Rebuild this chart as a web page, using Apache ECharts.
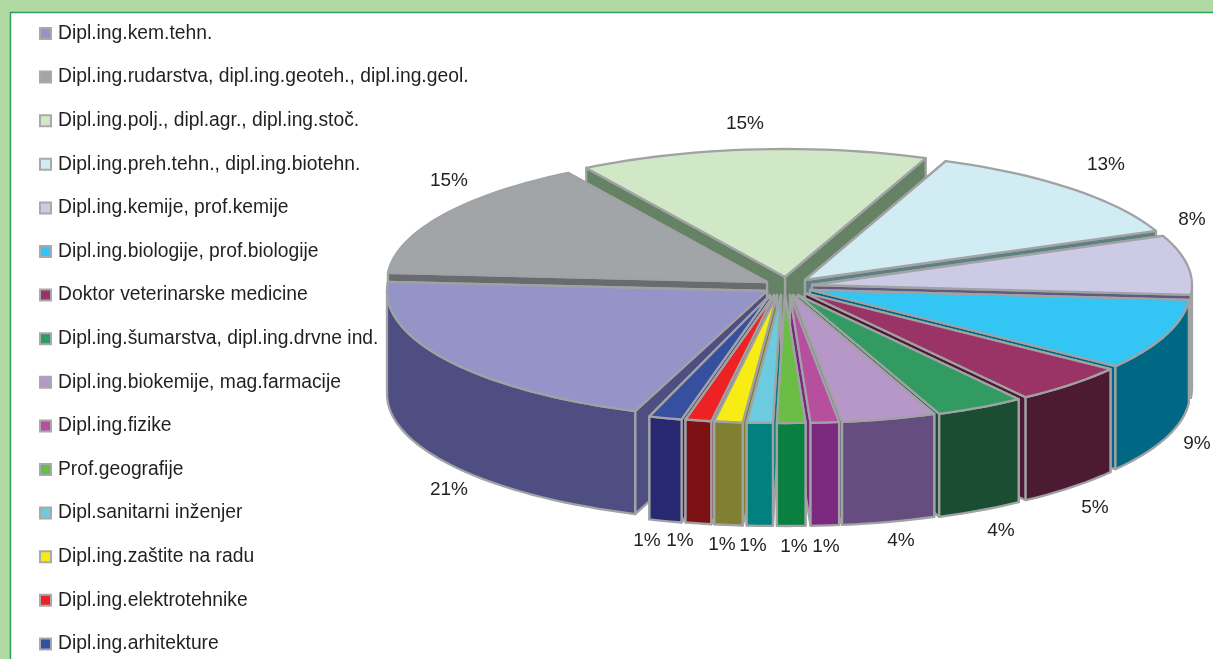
<!DOCTYPE html>
<html>
<head>
<meta charset="utf-8">
<style>
  html, body { margin: 0; padding: 0; background: #fff; }
  #chart { width: 1213px; height: 659px; }
</style>
<script src="https://cdn.jsdelivr.net/npm/echarts@6/dist/echarts.min.js"></script>
</head>
<body>
<div id="chart"></div>
<script>
const categories = [
  'Dipl.ing.kem.tehn.',
  'Dipl.ing.rudarstva, dipl.ing.geoteh., dipl.ing.geol.',
  'Dipl.ing.polj., dipl.agr., dipl.ing.stoč.',
  'Dipl.ing.preh.tehn., dipl.ing.biotehn.',
  'Dipl.ing.kemije, prof.kemije',
  'Dipl.ing.biologije, prof.biologije',
  'Doktor veterinarske medicine',
  'Dipl.ing.šumarstva, dipl.ing.drvne ind.',
  'Dipl.ing.biokemije, mag.farmacije',
  'Dipl.ing.fizike',
  'Prof.geografije',
  'Dipl.sanitarni inženjer',
  'Dipl.ing.zaštite na radu',
  'Dipl.ing.elektrotehnike',
  'Dipl.ing.arhitekture'
];
// share of each slice in percent
const shares = [20.5, 15.1, 14.8, 12.7, 7.5, 8.9, 5, 3.8, 4, 1.2, 1.2, 1.1, 1.2, 1.1, 1.4];
const topColors = ['#9594c8', '#a2a5a8', '#d1e8c7', '#d2ecf4', '#cdcae6', '#33c5f4', '#9a3366', '#319b62',
  '#b797c7', '#b74f9f', '#6bbd45', '#6ccbdf', '#f7ec13', '#ee2224', '#364f9f'];
const wallColors = ['#4e4e82', '#6a6b6e', '#668265', '#5d8083', '#5e5a80', '#006884', '#4c1b33', '#1b4d32',
  '#664d7f', '#7b2880', '#0a7f3f', '#00807f', '#808033', '#7c1214', '#282872'];

// pie geometry
const hub = [785, 295];
const radiusX = 380;
const radiusY = 128;
const depth = 103;
const startAngle = 20.3; // degrees clockwise from straight down
// how far each slice was pulled out of the pie
const explode = [[-18, -4], [-18, -13], [0, -18], [20, -15], [27, -10], [25, -5], [20, -2], [13, 0],
  [8, 0], [5, 0], [0, 0], [-4, 0], [-8, 0], [-11, 0], [-15, 0]];
// label centres, placed by hand like in the original
const labelSpots = [[449, 490], [449, 181], [745, 124], [1106, 165], [1192, 220], [1197, 444], [1095, 508],
  [1001, 531], [901, 541], [826, 547], [794, 547], [753, 546], [722, 545], [680, 541], [647, 541]];

const outline = '#a0a2a4';

// start and end angle of every slice
const spans = [];
let running = startAngle;
shares.forEach((share) => {
  const end = running + share * 3.6;
  spans.push([running, end]);
  running = end;
});

function rimPoint(i, deg, drop) {
  const rad = deg * Math.PI / 180;
  return [
    hub[0] + explode[i][0] - radiusX * Math.sin(rad),
    hub[1] + explode[i][1] + radiusY * Math.cos(rad) + drop
  ];
}

function arc(i, from, to, drop) {
  const pts = [];
  const steps = Math.max(2, Math.ceil((to - from) / 2));
  for (let s = 0; s <= steps; s++) {
    pts.push(rimPoint(i, from + (to - from) * s / steps, drop));
  }
  return pts;
}

function face(points, fill) {
  return {
    type: 'polygon',
    shape: { points: points },
    style: { fill: fill, stroke: outline, lineWidth: 2.3, lineJoin: 'round' }
  };
}

function renderSlice(i) {
  const [a0, a1] = spans[i];
  const tip = [hub[0] + explode[i][0], hub[1] + explode[i][1]];
  const tipLow = [tip[0], tip[1] + depth];
  const children = [];

  // radial walls, the far one first
  [a0, a1]
    .sort((p, q) => Math.cos(p * Math.PI / 180) - Math.cos(q * Math.PI / 180))
    .forEach((deg) => {
      const p = rimPoint(i, deg, 0);
      const q = rimPoint(i, deg, depth);
      children.push(face([tip, p, q, tipLow], wallColors[i]));
    });

  // rim wall, only the part turned to the viewer
  const ranges = [[a0, Math.min(a1, 90)], [Math.max(a0, 270), Math.min(a1, 450)]];
  ranges.forEach(([from, to]) => {
    if (to > from) {
      children.push(face(arc(i, from, to, 0).concat(arc(i, from, to, depth).reverse()), wallColors[i]));
    }
  });

  // top
  children.push(face([tip].concat(arc(i, a0, a1, 0)), topColors[i]));

  children.push({
    type: 'text',
    x: labelSpots[i][0],
    y: labelSpots[i][1],
    style: {
      text: Math.round(shares[i]) + '%',
      fontFamily: 'Liberation Sans',
      fontSize: 19,
      fill: '#231f20',
      align: 'center',
      verticalAlign: 'middle'
    }
  });
  return { type: 'group', children: children };
}

// paint back slices first
const depthOrder = categories.map((c, i) => i).sort((a, b) => {
  const mid = (k) => Math.cos((spans[k][0] + spans[k][1]) / 2 * Math.PI / 180);
  return mid(a) - mid(b);
});

const chart = echarts.init(document.getElementById('chart'));
chart.setOption({
  animation: false,
  backgroundColor: '#b0d9a3',
  graphic: [{
    type: 'rect',
    z: 0,
    shape: { x: 10.5, y: 12.5, width: 1300, height: 800 },
    style: { fill: '#fff', stroke: '#2e9e62', lineWidth: 1.5 }
  }],
  legend: {
    orient: 'vertical',
    left: 39,
    top: 24,
    padding: 0,
    height: 635,
    itemWidth: 11,
    itemHeight: 11,
    itemGap: 24.6,
    icon: 'rect',
    selectedMode: false,
    data: categories,
    textStyle: { fontFamily: 'Liberation Sans', fontSize: 19.3, color: '#231f20', padding: [0, 0, 0, 2] }
  },
  series: categories.map((name, i) => ({
    type: 'custom',
    name: name,
    coordinateSystem: 'none',
    z: 2 + depthOrder.indexOf(i),
    silent: true,
    itemStyle: { color: topColors[i], borderColor: '#a7a9ac', borderWidth: 1.5 },
    data: [shares[i]],
    renderItem: () => renderSlice(i)
  }))
});
</script>
</body>
</html>
